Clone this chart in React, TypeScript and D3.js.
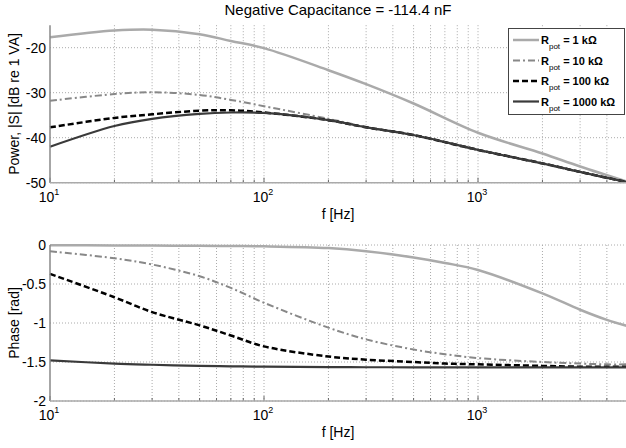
import React, { useRef, useEffect } from "react";
import * as d3 from "d3";

// frequencies (Hz)
const freqPow = [10, 20, 30, 50, 70, 100, 200, 300, 500, 1000, 2000, 3000, 5000];
const pow1k = [-17.7, -16.2, -16.0, -17.0, -18.5, -20.1, -25, -28.1, -32.4, -38.9, -43.5, -46.4, -49.8];
const pow10k = [-31.8, -30.3, -29.9, -30.5, -31.6, -33, -35.8, -37.6, -39.5, -42.8, -45.8, -47.7, -49.9];
const pow100k = [-37.7, -35.6, -34.8, -34, -33.9, -34.4, -36.1, -37.7, -39.4, -42.7, -45.7, -47.6, -49.9];
const pow1000k = [-42, -37.4, -35.8, -34.7, -34.4, -34.5, -36.1, -37.7, -39.4, -42.7, -45.7, -47.6, -49.9];

const freqPh = [10, 20, 30, 50, 70, 100, 200, 300, 500, 700, 1000, 2000, 3000, 4000, 5000];
const ph1k = [-0.003, -0.006, -0.008, -0.01, -0.013, -0.017, -0.04, -0.08, -0.16, -0.23, -0.32, -0.62, -0.83, -0.96, -1.04];
const ph10k = [-0.08, -0.17, -0.25, -0.4, -0.55, -0.74, -1.06, -1.21, -1.34, -1.4, -1.45, -1.5, -1.52, -1.53, -1.53];
const ph100k = [-0.37, -0.67, -0.86, -1.03, -1.16, -1.3, -1.43, -1.47, -1.5, -1.52, -1.53, -1.55, -1.56, -1.56, -1.56];
const ph1000k = [-1.48, -1.52, -1.535, -1.55, -1.555, -1.56, -1.565, -1.567, -1.568, -1.569, -1.57, -1.57, -1.57, -1.57, -1.57];

const powTicks = [-50, -40, -30, -20];
const phTicks = [-2, -1.5, -1, -0.5, 0];
const phTickLabels = ["-2", "-1.5", "-1", "-0.5", "0"];
const decades = [10, 100, 1000];
const legendLabels = ["1 kΩ", "10 kΩ", "100 kΩ", "1000 kΩ"];

const styles = [
  { color: "#aaaaaa", dash: null, w: 2.5 },
  { color: "#888888", dash: "7,3,2,3", w: 2 },
  { color: "#000000", dash: "6,3", w: 2.5 },
  { color: "#3a3a3a", dash: null, w: 2.2 },
];

export default function App() {
  const svgRef = useRef(null);
  const width = 626;
  const height = 448;

  useEffect(() => {
    const svg = d3.select(svgRef.current);
    svg.selectAll("*").remove();
    const font = "Liberation Sans, Arial, sans-serif";

    const x = d3.scaleLog().domain([10, 5000]).range([50, 627.6]);
    const minor: number[] = [];
    [10, 100, 1000].forEach((d) => {
      for (let k = 1; k < 10; k++) if (d * k <= 5000) minor.push(d * k);
    });

    const drawPanel = (
      top: number,
      bottom: number,
      domain: [number, number],
      ticks: number[],
      tickLabels: string[],
      freqs: number[],
      series: number[][],
      ylabel: string
    ) => {
      const y = d3.scaleLinear().domain(domain).range([bottom, top]);
      const g = svg.append("g");

      // grid
      g.selectAll(".vg")
        .data(minor.filter((d) => d > 10))
        .join("line")
        .attr("x1", (d) => x(d))
        .attr("x2", (d) => x(d))
        .attr("y1", top)
        .attr("y2", bottom)
        .attr("stroke", "#aaaaaa")
        .attr("stroke-width", 1)
        .attr("stroke-dasharray", "1,2");
      g.selectAll(".hg")
        .data(ticks)
        .join("line")
        .attr("x1", 50)
        .attr("x2", width)
        .attr("y1", (d) => y(d))
        .attr("y2", (d) => y(d))
        .attr("stroke", "#aaaaaa")
        .attr("stroke-width", 1)
        .attr("stroke-dasharray", "1,2");

      // ticks on bottom
      g.selectAll(".tk")
        .data(minor)
        .join("line")
        .attr("x1", (d) => x(d))
        .attr("x2", (d) => x(d))
        .attr("y1", bottom)
        .attr("y2", (d) => bottom - (decades.includes(d) ? 5 : 3))
        .attr("stroke", "#666");

      // curves
      const line = d3
        .line<number>()
        .x((_, i) => x(freqs[i]))
        .y((d) => y(d))
        .curve(d3.curveCatmullRom.alpha(0.5));
      series.forEach((s, i) => {
        const st = styles[i];
        g.append("path")
          .attr("d", line(s))
          .attr("fill", "none")
          .attr("stroke", st.color)
          .attr("stroke-width", st.w)
          .attr("stroke-dasharray", st.dash);
      });

      // axes lines
      g.append("line")
        .attr("x1", 50).attr("x2", 50)
        .attr("y1", top).attr("y2", bottom)
        .attr("stroke", "#888").attr("stroke-width", 1.5);
      g.append("line")
        .attr("x1", 50).attr("x2", width)
        .attr("y1", bottom).attr("y2", bottom)
        .attr("stroke", "#aaa").attr("stroke-width", 1.5);

      // y labels
      g.selectAll(".yl")
        .data(ticks)
        .join("text")
        .attr("x", 46)
        .attr("y", (d) => y(d) + 5)
        .attr("text-anchor", "end")
        .attr("font-family", font)
        .attr("font-size", 14)
        .text((_, i) => tickLabels[i]);

      // x labels 10^n
      decades.forEach((d, i) => {
        const t = g.append("text")
          .attr("x", x(d) - 1)
          .attr("y", bottom + 19)
          .attr("text-anchor", "middle")
          .attr("font-family", font)
          .attr("font-size", 14);
        t.append("tspan").text("10");
        t.append("tspan").attr("dy", -7).attr("font-size", 9).text(String(i + 1));
      });

      g.append("text")
        .attr("x", 338)
        .attr("y", bottom + 36)
        .attr("text-anchor", "middle")
        .attr("font-family", font)
        .attr("font-size", 14)
        .text("f [Hz]");

      g.append("text")
        .attr("transform", `translate(19,${(top + bottom) / 2}) rotate(-90)`)
        .attr("text-anchor", "middle")
        .attr("font-family", font)
        .attr("font-size", 14)
        .text(ylabel);
    };

    drawPanel(25.2, 182.7, [-50, -15], powTicks, powTicks.map(String), freqPow,
      [pow1k, pow10k, pow100k, pow1000k], "Power, |S| [dB re 1 VA]");
    drawPanel(245, 401, [-2, 0], phTicks, phTickLabels, freqPh,
      [ph1k, ph10k, ph100k, ph1000k], "Phase [rad]");

    // title
    svg.append("text")
      .attr("x", 338)
      .attr("y", 15)
      .attr("text-anchor", "middle")
      .attr("font-family", font)
      .attr("font-size", 15)
      .text("Negative Capacitance = -114.4 nF");

    // legend
    const lg = svg.append("g");
    lg.append("rect")
      .attr("x", 508.5).attr("y", 28.5)
      .attr("width", 116).attr("height", 86)
      .attr("fill", "#fff").attr("stroke", "#444").attr("stroke-width", 1);
    legendLabels.forEach((lab, i) => {
      const yy = 40 + i * 20.5;
      const st = styles[i];
      lg.append("line")
        .attr("x1", 513).attr("x2", 539)
        .attr("y1", yy).attr("y2", yy)
        .attr("stroke", st.color).attr("stroke-width", st.w)
        .attr("stroke-dasharray", st.dash);
      const t = lg.append("text")
        .attr("x", 541).attr("y", yy + 4)
        .attr("font-family", font)
        .attr("font-size", 11)
        .attr("font-weight", "bold");
      t.append("tspan").text("R");
      t.append("tspan").attr("dy", 5).attr("font-size", 8).attr("font-weight", "normal").text("pot");
      t.append("tspan").attr("dy", -5).text(" = " + lab);
    });
  });

  return (
    <svg
      ref={svgRef}
      width={width}
      height={height}
      style={{ position: "absolute", left: 0, top: 0, background: "#fff" }}
    ></svg>
  );
}
